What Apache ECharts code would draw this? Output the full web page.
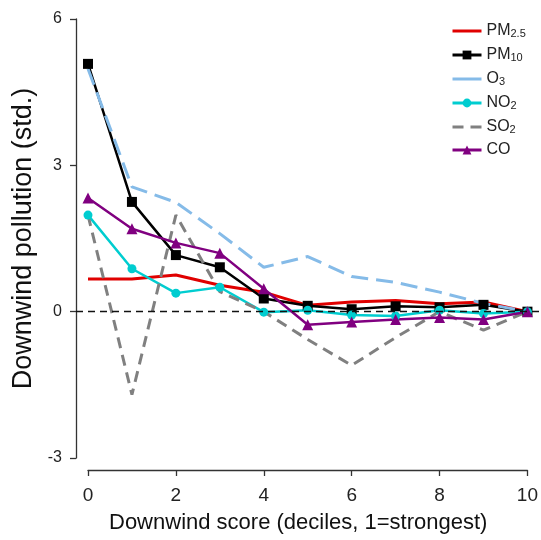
<!DOCTYPE html>
<html>
<head>
<meta charset="utf-8">
<script src="https://cdn.jsdelivr.net/npm/echarts@6/dist/echarts.min.js"></script>
<style>
  html, body {margin: 0; padding: 0; background: #fff;}
  #main {width: 541px; height: 540px;}
</style>
</head>
<body>
<div id="main"></div>
<script>
// decile index on the x axis
var deciles = [0, 1, 2, 3, 4, 5, 6, 7, 8, 9, 10];
var xTicks = [0, 2, 4, 6, 8, 10];
var yTicks = [-3, 0, 3, 6];

// downwind pollution (std.)
var pm25 = [0.67, 0.67, 0.75, 0.54, 0.40, 0.13, 0.20, 0.23, 0.16, 0.20, 0];
var pm10 = [5.08, 2.25, 1.16, 0.91, 0.27, 0.12, 0.05, 0.11, 0.09, 0.14, 0];
var o3   = [4.98, 2.56, 2.24, 1.60, 0.91, 1.13, 0.72, 0.60, 0.40, 0.17, 0];
var no2  = [1.98, 0.88, 0.38, 0.50, -0.01, 0.03, -0.07, -0.09, 0.03, -0.04, 0];
var so2  = [1.98, -1.70, 1.98, 0.41, 0.00, -0.57, -1.10, -0.53, 0.00, -0.38, 0];
var co   = [2.33, 1.70, 1.41, 1.20, 0.47, -0.27, -0.21, -0.16, -0.12, -0.16, 0];

var legendNames = ['PM2.5', 'PM10', 'O3', 'NO2', 'SO2', 'CO'];
var legendParts = {
    'PM2.5': ['PM', '2.5'],
    'PM10': ['PM', '10'],
    'O3': ['O', '3'],
    'NO2': ['NO', '2'],
    'SO2': ['SO', '2'],
    'CO': ['CO', '']
};
// series drawn as plain lines (no marker in the legend either)
var plainLines = {'PM2.5': true, 'O3': true, 'SO2': true};

function pairs(ys) {
    return deciles.map(function (x, i) { return [x, ys[i]]; });
}

var font = 'Liberation Sans, Arial, Helvetica, sans-serif';
var axisColor = '#333';

var myChart = echarts.init(document.getElementById('main'), null, {renderer: 'canvas'});
var option = {
    animation: false,
    textStyle: {fontFamily: font},
    grid: [
        {left: 88, right: 13, top: 19, bottom: 82},
        {left: 76, right: 0, top: 19, bottom: 82}
    ],
    legend: {
        data: legendNames.map(function (n) {
            var item = {name: n};
            if (plainLines[n]) item.itemStyle = {opacity: 0};
            if (n === 'O3') item.lineStyle = {type: 'solid'};
            return item;
        }),
        orient: 'vertical',
        left: 446,
        top: 17,
        itemWidth: 29,
        itemHeight: 11,
        itemGap: 7,
        lineStyle: {width: 3},
        textStyle: {
            fontFamily: font,
            color: '#222',
            rich: {
                b: {fontSize: 16, lineHeight: 16, fontFamily: font, color: '#222'},
                s: {fontSize: 11, lineHeight: 11, fontFamily: font, color: '#222', verticalAlign: 'bottom', padding: [6, 0, 0, 0]}
            }
        },
        formatter: function (name) {
            var p = legendParts[name];
            return '{b|' + p[0] + '}' + (p[1] ? '{s|' + p[1] + '}' : '');
        }
    },
    xAxis: [
        {
            type: 'value',
            gridIndex: 0,
            min: xTicks[0],
            max: xTicks[xTicks.length - 1],
            interval: 2,
            offset: 12,
            name: 'Downwind score (deciles, 1=strongest)',
            nameLocation: 'middle',
            nameGap: 42,
            nameTextStyle: {fontSize: 22, color: '#111', fontFamily: font, padding: [0, 19, 0, 0]},
            axisLine: {onZero: false, lineStyle: {color: axisColor, width: 1.3}},
            axisTick: {length: 6, lineStyle: {color: axisColor, width: 1.3}},
            axisLabel: {fontSize: 19, color: '#222', margin: 16, fontFamily: font},
            splitLine: {show: false}
        },
        {type: 'value', gridIndex: 1, min: 0, max: 1, show: false}
    ],
    yAxis: [
        {
            type: 'value',
            gridIndex: 0,
            min: yTicks[0],
            max: yTicks[yTicks.length - 1],
            interval: 3,
            offset: 12,
            name: 'Downwind pollution (std.)',
            nameLocation: 'middle',
            nameGap: 29,
            nameTextStyle: {fontSize: 27, color: '#111', fontFamily: font},
            axisLine: {show: true, onZero: false, lineStyle: {color: axisColor, width: 1.3}},
            axisTick: {show: true, length: 6, lineStyle: {color: axisColor, width: 1.3}},
            axisLabel: {fontSize: 16, color: '#222', margin: 14, fontFamily: font},
            splitLine: {show: false}
        },
        {type: 'value', gridIndex: 1, min: yTicks[0], max: yTicks[yTicks.length - 1], show: false}
    ],
    series: [
        {
            // zero reference line across the whole plot region
            type: 'line',
            xAxisIndex: 1,
            yAxisIndex: 1,
            data: [],
            silent: true,
            markLine: {
                silent: true,
                symbol: 'none',
                label: {show: false},
                lineStyle: {color: '#111', type: [7, 5], width: 1.3},
                data: [{yAxis: 0}]
            }
        },
        {
            name: 'PM2.5', type: 'line', data: pairs(pm25),
            symbol: 'none',
            itemStyle: {color: '#e00000'},
            lineStyle: {color: '#e00000', width: 3}
        },
        {
            name: 'PM10', type: 'line', data: pairs(pm10),
            symbol: 'rect', symbolSize: 10,
            itemStyle: {color: '#000'},
            lineStyle: {color: '#000', width: 2.5}
        },
        {
            name: 'O3', type: 'line', data: pairs(o3),
            symbol: 'none',
            itemStyle: {color: '#85bbe8'},
            lineStyle: {color: '#85bbe8', width: 3, type: [17, 8]}
        },
        {
            name: 'NO2', type: 'line', data: pairs(no2),
            symbol: 'circle', symbolSize: 9,
            itemStyle: {color: '#00cdd0'},
            lineStyle: {color: '#00cdd0', width: 2.5}
        },
        {
            name: 'SO2', type: 'line', data: pairs(so2),
            symbol: 'none',
            itemStyle: {color: '#808080'},
            lineStyle: {color: '#808080', width: 3, type: [11, 7]}
        },
        {
            name: 'CO', type: 'line', data: pairs(co),
            symbol: 'triangle', symbolSize: 11,
            itemStyle: {color: '#800080'},
            lineStyle: {color: '#800080', width: 2.5}
        }
    ]
};
myChart.setOption(option);
</script>
</body>
</html>
